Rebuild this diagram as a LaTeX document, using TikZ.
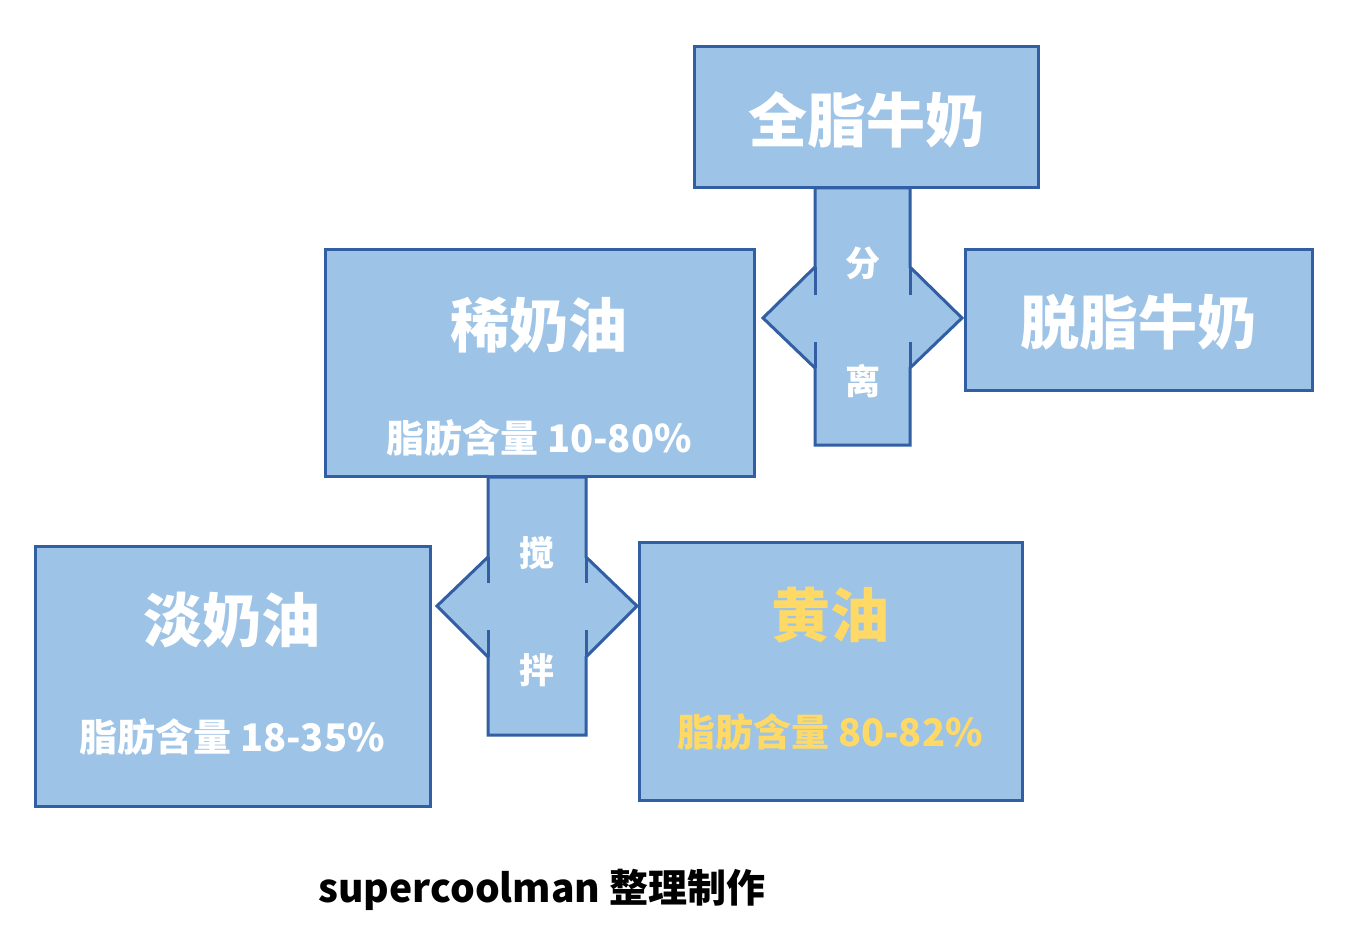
\documentclass[tikz,border=0pt]{standalone}
\usepackage{fontspec}
\newfontfamily\cjk{Noto Sans CJK SC}
\usetikzlibrary{positioning}
\definecolor{boxfill}{RGB}{157,195,230}
\definecolor{boxline}{RGB}{50,94,163}
\definecolor{butteryellow}{RGB}{255,217,102}

\begin{document}
\begin{tikzpicture}[x=1pt, y=-1pt,
	box/.style={draw=boxline, fill=boxfill, line width=3pt, inner sep=0pt},
	title/.style={text=white, inner sep=0pt, font=\cjk\bfseries\fontsize{59}{62}\selectfont},
	sub/.style={text=white, inner sep=0pt, font=\cjk\bfseries\fontsize{38}{40}\selectfont},
	step label/.style={text=white, inner sep=0pt, font=\cjk\bfseries\fontsize{35}{38}\selectfont},
	joint/.style={draw=boxline, fill=boxfill, line width=3pt, line join=miter}]

			% Page size
			\useasboundingbox[fill=white] (0,0) rectangle (1350,952);

			% Boxes
			\node (whole) [box, minimum width=344pt, minimum height=141pt] at (866,117.5) {};
			\node (cream) [box, minimum width=429pt, minimum height=226pt] at (539.5,363) {};
			\node (skim) [box, minimum width=347pt, minimum height=140pt] at (1138.5,320) {};
			\node (light) [box, minimum width=395pt, minimum height=260pt] at (232.5,676) {};
			\node (butter) [box, minimum width=383pt, minimum height=258pt] at (830.5,671) {};

			% Texts in the boxes
			\node (wholetitle) [title] at (866,120) {全脂牛奶};
			\node (skimtitle) [title] at (1138,322) {脱脂牛奶};
			\node (creamtitle) [title] at (539,325) {稀奶油};
			\node (creamsub) [sub] at (539,438) {脂肪含量 10-80\%};
			\node (lighttitle) [title] at (232,620) {淡奶油};
			\node (lightsub) [sub] at (232,737) {脂肪含量 18-35\%};
			\node (buttertitle) [title, text=butteryellow] at (830,615) {黄油};
			\node (buttersub) [sub, text=butteryellow] at (830,732) {脂肪含量 80-82\%};

			% Separating: whole milk -> cream and skim milk
			\draw[joint] (815,188) -- (910,188) -- (910,267) -- (962,318) -- (910,368)
				-- (910,445) -- (815,445) -- (815,368) -- (763,318) -- (815,267) -- cycle;
			\draw[boxline, line width=3pt] (815,267) -- (815,295) (815,342) -- (815,368)
				(910,267) -- (910,295) (910,342) -- (910,368);
			\node (sep1) [step label] at (863,263) {分};
			\node (sep2) [step label] at (863,381) {离};

			% Churning: cream -> light cream and butter
			\draw[joint] (488,477) -- (586,477) -- (586,557) -- (637,606) -- (586,657)
				-- (586,735) -- (488,735) -- (488,657) -- (437,606) -- (488,557) -- cycle;
			\draw[boxline, line width=3pt] (488,557) -- (488,583) (488,630) -- (488,657)
				(586,557) -- (586,583) (586,630) -- (586,657);
			\node (churn1) [step label] at (537,553) {搅};
			\node (churn2) [step label] at (537,670) {拌};

			% Footer
			\node (credit) [inner sep=0pt, font=\cjk\bfseries\fontsize{39}{41}\selectfont] at (542,890) {supercoolman 整理制作};

		\end{tikzpicture}
\end{document}
